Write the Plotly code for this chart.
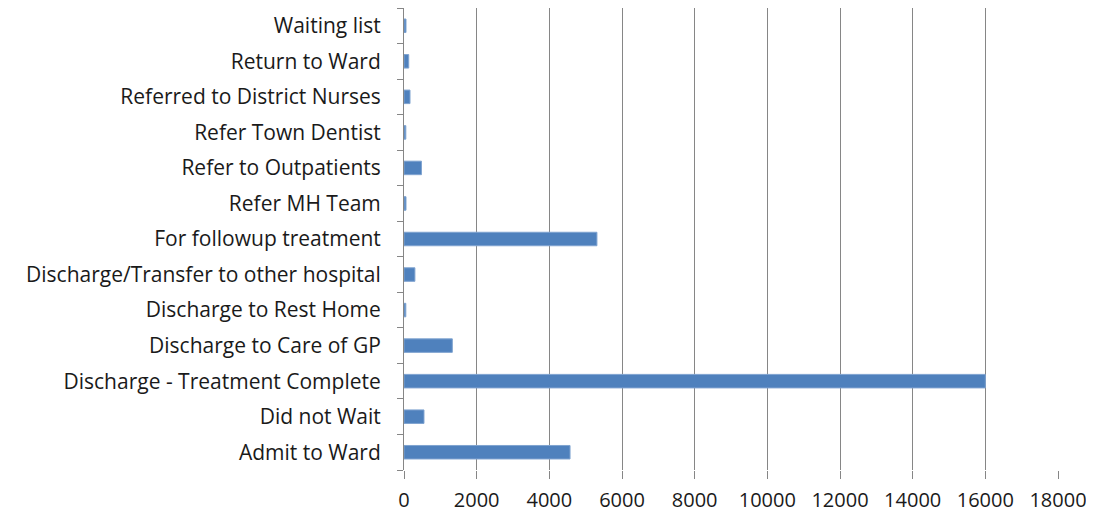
import plotly.graph_objects as go

categories = [
    "Admit to Ward",
    "Did not Wait",
    "Discharge - Treatment Complete",
    "Discharge to Care of GP",
    "Discharge to Rest Home",
    "Discharge/Transfer to other hospital",
    "For followup treatment",
    "Refer MH Team",
    "Refer to Outpatients",
    "Refer Town Dentist",
    "Referred to District Nurses",
    "Return to Ward",
    "Waiting list",
]
values = [4570, 550, 16000, 1330, 50, 300, 5310, 55, 480, 50, 165, 130, 55]
x_ticks = [0, 2000, 4000, 6000, 8000, 10000, 12000, 14000, 16000, 18000]

FONT = "Open Sans"
TEXT = "#1a1a1a"
GRID = "#868686"

fig = go.Figure(
    go.Bar(
        x=values,
        y=categories,
        orientation="h",
        marker=dict(color="#4F81BD", line=dict(color="#7fa3d0", width=1)),
        width=0.38,
    )
)

# page body has an 8px margin; figure is sized/margined to compensate
fig.update_layout(
    width=1086,
    height=515,
    margin=dict(l=396, r=36, t=0, b=53),
    paper_bgcolor="white",
    plot_bgcolor="white",
    showlegend=False,
    font=dict(family=FONT, size=21, color=TEXT),
)

fig.update_xaxes(
    range=[0, 18000],
    tickvals=x_ticks,
    ticktext=[str(v) for v in x_ticks],
    showgrid=True,
    gridcolor=GRID,
    gridwidth=1,
    showline=False,
    zeroline=False,
    ticks="outside",
    ticklen=8,
    tickcolor=GRID,
    tickfont=dict(family=FONT, size=20, color=TEXT),
    ticklabelstandoff=4,
    automargin=False,
)

fig.update_yaxes(
    type="category",
    categoryorder="array",
    categoryarray=categories,
    showline=True,
    linecolor=GRID,
    linewidth=1,
    showgrid=False,
    ticks="outside",
    ticklen=6,
    tickcolor=GRID,
    tickson="boundaries",
    tickfont=dict(family=FONT, size=21, color=TEXT),
    ticklabelstandoff=18,
    automargin=False,
)

fig.write_html("out.html")
